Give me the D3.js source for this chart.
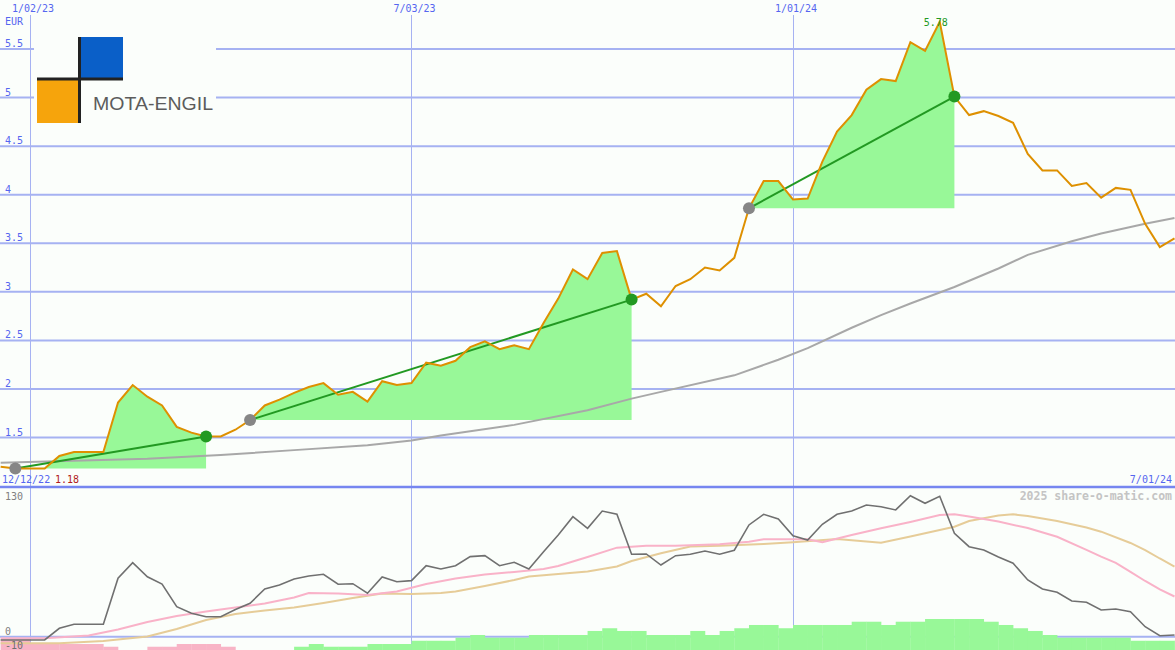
<!DOCTYPE html>
<html>
<head>
<meta charset="utf-8">
<script src="https://cdn.jsdelivr.net/npm/d3@7"></script>
<style>
  body { margin: 0; background: #fbfefb; }
  svg { display: block; }
  text { font-family: "DejaVu Sans Mono", monospace; }
</style>
</head>
<body>
<script>
// MOTA-ENGIL weekly price chart, EUR

// weekly closes, one per Monday from 19 Dec 2022
let priceValues = [1.20, 1.18, 1.18, 1.18, 1.31, 1.35, 1.35, 1.35, 1.86, 2.04,
  1.92, 1.83, 1.61, 1.55, 1.51, 1.51, 1.58, 1.68, 1.83, 1.89,
  1.96, 2.02, 2.06, 1.94, 1.97, 1.87, 2.08, 2.04, 2.06, 2.27,
  2.24, 2.29, 2.43, 2.49, 2.41, 2.45, 2.41, 2.68, 2.93, 3.23,
  3.13, 3.40, 3.42, 2.92, 2.98, 2.85, 3.06, 3.13, 3.25, 3.22,
  3.35, 3.86, 4.14, 4.14, 3.95, 3.96, 4.34, 4.65, 4.82, 5.08,
  5.19, 5.17, 5.57, 5.48, 5.78, 5.01, 4.82, 4.86, 4.81, 4.74,
  4.42, 4.25, 4.25, 4.09, 4.12, 3.97, 4.07, 4.05, 3.70, 3.46,
  3.55]

// long moving average (grey line), week index -> value
let maWeek = [0, 5, 10, 15, 20, 25, 28, 30, 35, 40, 43, 45, 50, 53, 55, 58, 60, 62, 65, 68, 70, 73, 75, 78, 80]
let maValues = [1.24, 1.26, 1.28, 1.32, 1.37, 1.42, 1.47, 1.52, 1.63, 1.78, 1.90, 1.97, 2.14, 2.30, 2.42,
  2.63, 2.76, 2.88, 3.05, 3.24, 3.38, 3.52, 3.60, 3.70, 3.76]

// trend segments (week index of start and end)
let trendFrom = [1, 17, 51]
let trendTo = [14, 43, 65]

// lower panel indicator
let momValues = [-3.0, -3.0, -3.0, -3.0, 7.7, 11.4, 11.4, 11.4, 53.8, 68.1,
  55.2, 48.5, 27.6, 21.5, 18.4, 18.4, 25.0, 30.8, 43.9, 47.6,
  53.1, 55.9, 57.5, 48.3, 48.8, 40.0, 55.0, 50.6, 51.6, 65.4,
  62.3, 65.4, 73.7, 74.6, 65.4, 68.5, 62.3, 78.3, 93.6, 110.5,
  99.8, 115.7, 112.7, 75.9, 76.2, 66.0, 74.6, 75.9, 78.9, 75.9,
  79.6, 102.9, 112.7, 108.4, 93.0, 89.0, 103.5, 112.7, 115.7, 121.3,
  119.7, 116.7, 129.8, 122.8, 129.3, 95.2, 82.9, 79.8, 73.4, 67.6,
  52.2, 43.9, 40.9, 32.9, 31.7, 24.6, 25.5, 23.0, 9.2, 0.9,
  1.6]
let pinkWeek = [0, 3, 6, 8, 10, 12, 14, 16, 18, 20, 21, 23, 25, 27, 29, 31, 33, 35, 37, 38, 40, 42, 44, 46,
  49, 51, 52, 55, 56, 58, 60, 62, 64, 65, 66, 68, 70, 72, 74, 75, 76, 77, 78, 79, 80]
let pinkValues = [-1.5, -1.5, 1.1, 6.6, 13.5, 19.1, 23.2, 26.9, 30.6, 36.1, 40.2, 39.8, 38.4, 41.6, 48.5, 53.6,
  57.3, 59.6, 62.3, 65.1, 73.4, 82.0, 83.8, 83.8, 85.1, 87.5, 89.7, 89.7, 86.9, 93.6, 99.8, 105.6,
  112.0, 112.7, 110.7, 106.0, 100.0, 92.0, 80.0, 73.7, 67.9, 59.6, 51.3, 43.5, 37.0]
let tanWeek = [0, 4, 7, 10, 12, 14, 16, 18, 20, 22, 24, 26, 28, 30, 31, 33, 35, 36, 38, 40, 42, 43, 45, 47,
  49, 52, 54, 57, 60, 62, 64, 65, 66, 68, 69, 70, 72, 74, 75, 77, 78, 79, 80]
let tanValues = [-6.1, -6.1, -4.0, 0.2, 7.1, 15.4, 20.9, 24.1, 26.9, 31.0, 35.6, 39.8, 39.3, 40.2, 41.6, 46.7,
  52.2, 55.4, 57.7, 60.0, 64.6, 69.7, 76.8, 83.1, 83.8, 85.4, 86.9, 90.0, 86.6, 92.3, 98.3, 101.3,
  106.5, 111.6, 112.7, 111.1, 106.5, 100.6, 96.7, 86.3, 79.8, 72.0, 64.6]
let histValues = [-10, -10, -5.5, -5.5, -5.5, -5.5, -5.5, -3, 0, 0,
  -3, -3, -5.5, -5.5, -5.5, -3, 0, 0, 0, 0,
  3, 5.5, 3, 3, 3, 5.5, 5.5, 5.5, 8.5, 8.5,
  8.5, 11.3, 13.8, 11.3, 11.3, 11.3, 13.8, 13.8, 13.8, 13.8,
  17.5, 20, 17.5, 17.5, 13.8, 13.8, 13.8, 17.5, 13.8, 17.5,
  20, 23, 23, 20, 23, 23, 23, 23, 26, 26,
  23, 26, 26, 28.5, 28.5, 28.5, 28.5, 26, 23, 20,
  17.5, 13.8, 11.3, 11.3, 11.3, 11.3, 11.3, 8.5, 8.5, 8.5,
  8.5]

// axis ticks
let priceTicks = [1.5, 2, 2.5, 3, 3.5, 4, 4.5, 5, 5.5]
let dateTicks = ['2023-01-02', '2023-07-03', '2024-01-01']
let dateTickLabels = ['1/02/23', '7/03/23', '1/01/24']

let W = 1175
let H = 650
let parse = d3.timeParse('%Y-%m-%d')
let weeks = d3.timeMonday.range(new Date(2022, 11, 19), new Date(2024, 6, 2))

let x = d3.scaleTime()
  .domain([new Date(2022, 11, 19), new Date(2024, 6, 1)])
  .range([0.65, 1174.5])
let y = d3.scaleLinear().domain([1.5, 5.5]).range([437.5, 49])
let yB = d3.scaleLinear().domain([0, 130]).range([636.7, 495.5])
let histY = d3.scaleLinear().domain([0, 28.5]).range([650, 619])

let gridColor = '#a6b2f2'
let labelColor = '#5566f0'

let svg = d3.select('body').append('svg')
  .attr('width', W)
  .attr('height', H)

svg.append('rect').attr('width', W).attr('height', H).attr('fill', '#fbfefb')

let defs = svg.append('defs')
defs.append('clipPath').attr('id', 'clipTop').append('rect')
  .attr('x', 0).attr('y', 0).attr('width', W).attr('height', 486)
defs.append('clipPath').attr('id', 'clipBot').append('rect')
  .attr('x', 0).attr('y', 488).attr('width', W).attr('height', H - 488)

// ---- grid
svg.selectAll('.hgrid')
  .data(priceTicks)
  .enter().append('line')
  .attr('x1', 0).attr('x2', W)
  .attr('y1', d => y(d)).attr('y2', d => y(d))
  .attr('stroke', gridColor).attr('stroke-width', 2)

// vertical grid, snapped to whole pixels
svg.selectAll('.vgrid')
  .data(dateTicks)
  .enter().append('line')
  .attr('x1', d => Math.round(x(parse(d))) + 0.5).attr('x2', d => Math.round(x(parse(d))) + 0.5)
  .attr('y1', 15).attr('y2', H)
  .attr('stroke', gridColor).attr('stroke-width', 1)
  .attr('shape-rendering', 'crispEdges')

svg.append('line')
  .attr('x1', 0).attr('x2', W)
  .attr('y1', yB(0)).attr('y2', yB(0))
  .attr('stroke', gridColor).attr('stroke-width', 2)

// ---- top panel
let topG = svg.append('g').attr('clip-path', 'url(#clipTop)')

let priceData = weeks.map((d, i) => ({ date: d, value: priceValues[i] }))

// shaded trend areas
trendFrom.forEach(function (s, k) {
  let e = trendTo[k]
  let base = priceValues[s]
  let seg = priceData.slice(s, e + 1)
  topG.append('path')
    .datum(seg)
    .attr('fill', '#98f898')
    .attr('d', d3.area()
      .x(d => x(d.date))
      .y0(y(base))
      .y1(d => y(d.value)))
})

// grey moving average
topG.append('path')
  .datum(maWeek.map((w, i) => ({ date: weeks[w], value: maValues[i] })))
  .attr('fill', 'none')
  .attr('stroke', '#a8a8a8')
  .attr('stroke-width', 2)
  .attr('d', d3.line().x(d => x(d.date)).y(d => y(d.value)))

// trend lines
topG.selectAll('.trend')
  .data(trendFrom)
  .enter().append('line')
  .attr('x1', d => x(weeks[d]))
  .attr('y1', d => y(priceValues[d]))
  .attr('x2', (d, k) => x(weeks[trendTo[k]]))
  .attr('y2', (d, k) => y(priceValues[trendTo[k]]))
  .attr('stroke', '#229922')
  .attr('stroke-width', 2)

// price line
topG.append('path')
  .datum(priceData)
  .attr('fill', 'none')
  .attr('stroke', '#de9000')
  .attr('stroke-width', 2)
  .attr('d', d3.line().x(d => x(d.date)).y(d => y(d.value)))

// start / end dots
topG.selectAll('.dotS')
  .data(trendFrom)
  .enter().append('circle')
  .attr('cx', d => x(weeks[d]))
  .attr('cy', d => y(priceValues[d]))
  .attr('r', 6)
  .attr('fill', '#868686')
topG.selectAll('.dotE')
  .data(trendTo)
  .enter().append('circle')
  .attr('cx', d => x(weeks[d]))
  .attr('cy', d => y(priceValues[d]))
  .attr('r', 6)
  .attr('fill', '#229922')

// max label
let maxI = d3.maxIndex(priceValues)
svg.append('text')
  .attr('x', x(weeks[maxI]) - 4)
  .attr('y', y(priceValues[maxI]) + 4)
  .attr('text-anchor', 'middle')
  .attr('font-size', 10)
  .attr('fill', '#229922')
  .text(d3.format('.2f')(priceValues[maxI]))

// ---- logo
let logo = svg.append('g')
logo.append('rect').attr('x', 34).attr('y', 33).attr('width', 182).attr('height', 93).attr('fill', '#fbfefb')
logo.append('rect').attr('x', 80).attr('y', 37).attr('width', 43).attr('height', 43).attr('fill', '#0a5fc8')
logo.append('rect').attr('x', 37).attr('y', 80).attr('width', 43).attr('height', 43).attr('fill', '#f6a40c')
logo.append('line').attr('x1', 79.5).attr('x2', 79.5).attr('y1', 37).attr('y2', 123)
  .attr('stroke', '#222').attr('stroke-width', 3)
logo.append('line').attr('x1', 37).attr('x2', 123).attr('y1', 79).attr('y2', 79)
  .attr('stroke', '#222').attr('stroke-width', 3)
logo.append('text')
  .attr('x', 93).attr('y', 109.5)
  .attr('font-size', 19)
  .attr('textLength', 120)
  .attr('lengthAdjust', 'spacingAndGlyphs')
  .attr('fill', '#5c5c5c')
  .style('font-family', 'Liberation Sans, Arial, sans-serif')
  .text('MOTA-ENGIL')

// ---- labels top
svg.selectAll('.plab')
  .data(priceTicks)
  .enter().append('text')
  .attr('x', 5)
  .attr('y', d => y(d) - 2)
  .attr('font-size', 10)
  .attr('fill', labelColor)
  .text(d => d)
svg.append('text').attr('x', 5).attr('y', 25).attr('font-size', 10).attr('fill', labelColor).text('EUR')
svg.selectAll('.dlab')
  .data(dateTicks)
  .enter().append('text')
  .attr('x', d => x(parse(d)) + 3)
  .attr('y', 12)
  .attr('text-anchor', 'middle')
  .attr('font-size', 10)
  .attr('fill', labelColor)
  .text((d, i) => dateTickLabels[i])

let minI = d3.minIndex(priceValues)
svg.append('text').attr('x', 2).attr('y', 483).attr('font-size', 10).attr('fill', labelColor).text('12/12/22')
svg.append('text').attr('x', 55).attr('y', 483).attr('font-size', 10).attr('fill', '#b01c1c')
  .text(d3.format('.2f')(priceValues[minI]))
svg.append('text').attr('x', 1172).attr('y', 483).attr('text-anchor', 'end')
  .attr('font-size', 10).attr('fill', labelColor).text('7/01/24')

// separator
svg.append('line')
  .attr('x1', 0).attr('x2', W).attr('y1', 487).attr('y2', 487)
  .attr('stroke', '#7686f0').attr('stroke-width', 2.5)

// ---- bottom panel
let botG = svg.append('g').attr('clip-path', 'url(#clipBot)')
let barW = x(weeks[1]) - x(weeks[0])

botG.selectAll('.bar')
  .data(histValues)
  .enter().append('rect')
  .attr('x', (d, i) => x(weeks[i]))
  .attr('width', barW + 0.3)
  .attr('y', d => histY(Math.abs(d)))
  .attr('height', d => 650 - histY(Math.abs(d)))
  .attr('fill', d => d < 0 ? '#f8b4c6' : '#98f898')

let lineB = d3.line().x(d => x(d.date)).y(d => yB(d.value))
botG.append('path')
  .datum(tanWeek.map((w, i) => ({ date: weeks[w], value: tanValues[i] })))
  .attr('fill', 'none').attr('stroke', '#e6cc98').attr('stroke-width', 2)
  .attr('d', lineB)
botG.append('path')
  .datum(pinkWeek.map((w, i) => ({ date: weeks[w], value: pinkValues[i] })))
  .attr('fill', 'none').attr('stroke', '#f9b2c8').attr('stroke-width', 2)
  .attr('d', lineB)
botG.append('path')
  .datum(weeks.map((d, i) => ({ date: d, value: momValues[i] })))
  .attr('fill', 'none').attr('stroke', '#707070').attr('stroke-width', 1.6)
  .attr('d', lineB)

svg.append('text').attr('x', 5).attr('y', yB(130) + 4).attr('font-size', 10).attr('fill', '#808080').text('130')
svg.append('text').attr('x', 5).attr('y', yB(0) - 2).attr('font-size', 10).attr('fill', '#808080').text('0')
svg.append('text').attr('x', 5).attr('y', yB(-10) + 1).attr('font-size', 10).attr('fill', '#707070').text('-10')
svg.append('text')
  .attr('x', 1172).attr('y', 500)
  .attr('text-anchor', 'end')
  .attr('font-size', 11.5)
  .attr('font-weight', 'bold')
  .attr('fill', '#c4c4c4')
  .text('2025 share-o-matic.com')
</script>
</body>
</html>
